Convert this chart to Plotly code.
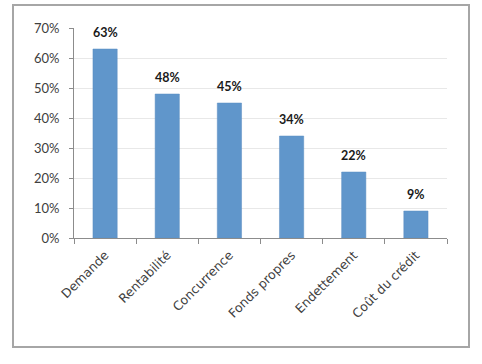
import plotly.graph_objects as go

categories = ["Demande", "Rentabilité", "Concurrence", "Fonds propres", "Endettement", "Coût du crédit"]
values = [0.63, 0.48, 0.45, 0.34, 0.22, 0.09]
value_labels = ["63%", "48%", "45%", "34%", "22%", "9%"]
y_ticks = [0, 0.1, 0.2, 0.3, 0.4, 0.5, 0.6, 0.7]
y_tick_labels = ["0%", "10%", "20%", "30%", "40%", "50%", "60%", "70%"]

FONT = "'DejaVu Sans', sans-serif"
LFONT = "Lato, 'DejaVu Sans', sans-serif"

fig = go.Figure(go.Bar(
    x=categories, y=values,
    marker=dict(color="#6096CB", line=dict(color="#5A8CC0", width=0.5)),
    hoverinfo="skip",
))

for c, v, t in zip(categories, values, value_labels):
    fig.add_annotation(x=c, y=v, text="<b>%s</b>" % t, showarrow=False,
                       yanchor="bottom", yshift=7,
                       font=dict(family=LFONT, size=12.5, color="#1a1a1a"))

W, H = 482, 364
L, R, T, B = 74, 35, 28, 126
pw, ph = W - L - R, H - T - B

def px(x):
    return (x - L) / pw

def py(y):
    return (H - B - y) / ph

fig.add_shape(type="rect", xref="paper", yref="paper",
              x0=px(13), x1=px(469), y0=py(347), y1=py(5),
              line=dict(color="#A6A6A6", width=2), fillcolor="rgba(0,0,0,0)", layer="below")

fig.update_layout(
    width=W, height=H,
    margin=dict(l=L, r=R, t=T, b=B, autoexpand=False),
    paper_bgcolor="white", plot_bgcolor="white",
    bargap=0.61,
    showlegend=False,
    font=dict(family=FONT, size=12, color="#404040"),
    xaxis=dict(
        tickangle=-45, showline=True, linecolor="#8C8C8C", linewidth=1,
        ticks="outside", tickson="boundaries", ticklen=5, tickcolor="#8C8C8C",
        tickfont=dict(family=FONT, size=12.5, color="#404040"),
        ticklabelstandoff=4,
        showgrid=False, automargin=False,
    ),
    yaxis=dict(
        range=[0, 0.7], tickvals=y_ticks, ticktext=y_tick_labels,
        showline=True, linecolor="#8C8C8C", linewidth=1,
        ticks="outside", ticklen=4, tickcolor="#8C8C8C",
        ticklabelstandoff=7,
        showgrid=True, gridcolor="#E8E8E8", gridwidth=1,
        zeroline=False, automargin=False,
        tickfont=dict(family=LFONT, size=13, color="#404040"),
    ),
)

fig.write_html("out.html", config={"displayModeBar": False},
               post_script="document.body.style.margin='0';")
